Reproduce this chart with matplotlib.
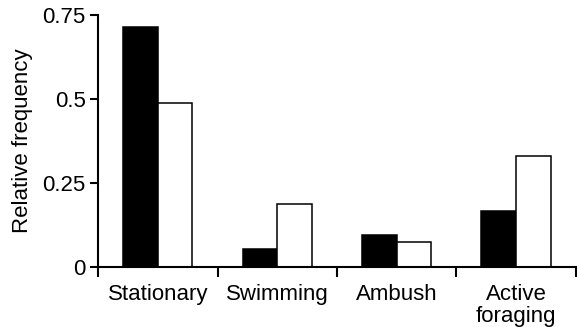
import numpy as np
import matplotlib.pyplot as plt
from matplotlib.ticker import FixedLocator

plt.rcParams['font.family'] = ['Liberation Sans', 'DejaVu Sans']

categories = ["Stationary", "Swimming", "Ambush", "Active\nforaging"]
black_vals = [0.715, 0.053, 0.097, 0.167]
white_vals = [0.489, 0.188, 0.074, 0.331]
y_ticks = [0, 0.25, 0.5, 0.75]
y_tick_labels = ["0", "0.25", "0.5", "0.75"]

fig = plt.figure(figsize=(5.77, 3.27), dpi=100)
ax = fig.add_axes([0.17, 0.183, 0.828, 0.771])

x = np.arange(len(categories)) + 0.5
w = 0.29
ax.bar(x - w / 2, black_vals, w, color="black", edgecolor="black", linewidth=1.1)
ax.bar(x + w / 2, white_vals, w, color="white", edgecolor="black", linewidth=1.1)

ax.set_xlim(0, len(categories))
ax.set_ylim(0, 0.75)
ax.set_yticks(y_ticks)
ax.set_yticklabels(y_tick_labels)
ax.set_xticks(x)
ax.set_xticklabels(categories)
ax.xaxis.set_minor_locator(FixedLocator(np.arange(len(categories) + 1)))

ax.spines["top"].set_visible(False)
ax.spines["right"].set_visible(False)
ax.spines["left"].set_linewidth(1.5)
ax.spines["bottom"].set_linewidth(1.5)

ax.tick_params(axis="y", direction="out", length=6, width=1.5, labelsize=16, pad=3)
ax.tick_params(axis="x", which="major", length=0, labelsize=16, pad=12)
ax.tick_params(axis="x", which="minor", direction="out", length=7, width=1.5)
for lab in ax.get_xticklabels():
    lab.set_linespacing(1.05)

ax.set_ylabel("Relative frequency", fontsize=16, labelpad=7)

fig.savefig("out.png", dpi=100)
